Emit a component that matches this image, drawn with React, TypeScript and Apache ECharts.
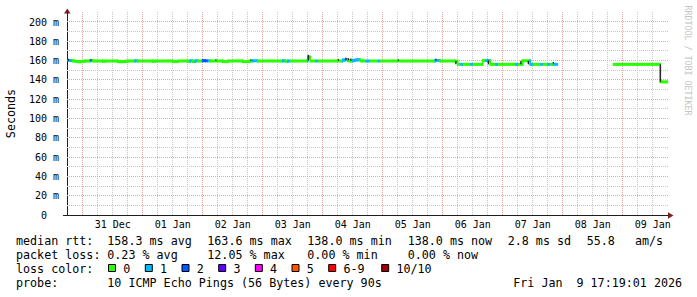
import React, { useEffect, useRef } from 'react';
import * as echarts from 'echarts';

// hours are counted from 31 Dec 00:00; one step = 1 hour
const FIRST_HOUR = -6;
const medianMs: (number | null)[] = [
  // 30 Dec 18:00 - 23:00
  160.2, 160.0, 159.6, 159.2, 158.9, 159.0,
  // 31 Dec
  159.3, 159.6, 159.6, 160.0, 159.6, 159.6, 159.6, 159.6,
  159.3, 159.6, 159.6, 159.6, 159.6, 159.6, 159.0, 158.9,
  159.0, 159.3, 159.6, 159.6, 159.6, 159.8, 159.6, 159.6,
  // 01 Jan
  159.6, 159.6, 159.6, 159.6, 159.3, 159.6, 159.6, 159.6,
  159.6, 159.6, 159.6, 159.6, 159.0, 159.0, 159.6, 159.6,
  159.6, 159.6, 159.3, 159.8, 159.0, 159.8, 159.6, 159.6,
  // 02 Jan
  160.0, 159.8, 159.8, 159.6, 159.6, 159.6, 159.6, 159.6,
  159.0, 159.0, 159.6, 159.6, 159.6, 159.6, 159.6, 159.6,
  159.0, 159.0, 159.3, 159.6, 159.8, 159.8, 159.6, 159.6,
  // 03 Jan
  159.6, 159.6, 159.6, 159.6, 159.6, 159.6, 159.6, 159.6,
  159.8, 159.3, 159.6, 159.6, 159.6, 159.6, 159.6, 159.6,
  159.6, 159.6, 163.6, 159.6, 159.6, 159.6, 159.6, 159.6,
  // 04 Jan
  159.6, 159.6, 159.6, 159.6, 159.6, 159.6, 159.6, 159.6,
  160.6, 161.0, 159.8, 159.6, 160.2, 160.6, 161.0, 159.8,
  159.6, 159.6, 159.6, 159.6, 159.6, 159.6, 159.6, 159.6,
  // 05 Jan
  159.6, 159.6, 159.6, 159.6, 159.6, 159.6, 159.6, 159.6,
  159.6, 159.6, 159.6, 159.6, 159.6, 159.6, 159.6, 159.6,
  159.6, 159.6, 159.6, 159.6, 159.6, 160.2, 160.2, 159.6,
  // 06 Jan
  159.6, 159.6, 159.6, 159.6, 159.6, 159.4, 156.1, 156.1,
  156.1, 156.1, 156.1, 156.1, 156.1, 156.1, 156.1, 156.1,
  160.0, 160.0, 160.0, 156.1, 156.1, 156.1, 156.1, 156.1,
  // 07 Jan
  156.1, 156.1, 156.1, 156.1, 156.1, 156.1, 156.1, 156.1,
  159.8, 159.8, 159.8, 156.1, 156.1, 156.1, 156.1, 156.1,
  156.1, 156.1, 156.1, 156.1, 156.1, 156.1, null, null,
  // 08 Jan
  null, null, null, null, null, null, null, null,
  null, null, null, null, null, null, null, null,
  null, null, null, null, 156.1, 156.1, 156.1, 156.1,
  // 09 Jan
  156.1, 156.1, 156.1, 156.1, 156.1, 156.1, 156.1, 156.1,
  156.1, 156.1, 156.1, 156.1, 156.1, 156.1, 156.1, 138.0,
  138.0, 138.0,
];
const lossHours = [-6, -5, 3, 21, 43, 45, 48, 49, 50, 68, 69, 80, 82, 90, 93, 104, 105, 108, 109, 110, 113, 114, 118, 141, 142, 151, 155, 161, 162, 165, 173, 179, 183, 186, 188, 189];
const lossCounts = [1, 1, 1, 1, 1, 1, 2, 2, 1, 1, 1, 1, 1, 1, 1, 1, 1, 1, 1, 1, 1, 1, 1, 1, 1, 1, 1, 1, 1, 1, 1, 1, 1, 1, 1, 1];
const smokeHours = [-6, 3, 53, 67, 90, 102, 105, 106, 107, 126, 141, 149, 162, 175, 178, 188, 230.8];
const smokeLowMs = [159.8, 159.8, 159.8, 159.8, 160.0, 159.8, 160.4, 160.4, 159.8, 159.8, 160.0, 156.1, 156.1, 156.1, 156.1, 157.0, 138.0];
const smokeHighMs = [161.8, 161.5, 161.2, 161.2, 166.0, 161.5, 163.0, 162.5, 162.2, 161.2, 162.0, 159.6, 160.0, 159.8, 159.8, 158.6, 156.1];

const dayLabels = ['31 Dec', '01 Jan', '02 Jan', '03 Jan', '04 Jan', '05 Jan', '06 Jan', '07 Jan', '08 Jan', '09 Jan'];
const dayLabelHours = [12, 36, 60, 84, 108, 132, 156, 180, 204, 228];
const majorGridHours = [0, 24, 48, 72, 96, 120, 144, 168, 192, 216];
const minorGridHours = [6, 12, 18, 30, 36, 42, 54, 60, 66, 78, 84, 90, 102, 108, 114, 126, 132, 138, 150, 156, 162, 174, 180, 186, 198, 204, 210, 222, 228];
const majorGridMs = [20, 40, 60, 80, 100, 120, 140, 160, 180, 200];
const minorGridMs = [10, 30, 50, 70, 90, 110, 130, 150, 170, 190];
const yTickMs = [0, 20, 40, 60, 80, 100, 120, 140, 160, 180, 200];

const lossLegendLabels = ['0', '1', '2', '3', '4', '5', '6-9', '10/10'];
const lossLegendColors = ['#26ff00', '#00b8ff', '#0059ff', '#5e00ff', '#ff00ff', '#ff5500', '#ff0000', '#a10000'];
const medianStats = ['158.3 ms avg', '163.6 ms max', '138.0 ms min', '138.0 ms now', '2.8 ms sd', '55.8', 'am/s'];
const lossStats = ['0.23 % avg', '12.05 % max', '0.00 % min', '0.00 % now'];
const probeText = '10 ICMP Echo Pings (56 Bytes) every 90s';
const dateParts = ['Fri Jan', '9 17:19:01 2026'];

const X_MIN = -6.28;
const X_MAX = 234.12;
const Y_MAX = 210;
const MONO = 'DejaVu Sans Mono';
const GRID_GRAY = '#c6c6c6';
const GRID_RED = '#eea4a4';

function lossColorIndex(n: number) {
  if (n <= 4) return n;
  if (n === 5) return 5;
  if (n < 10) return 6;
  return 7;
}

export default function App() {
  const ref = useRef<HTMLDivElement>(null);
  useEffect(() => {
    if (!ref.current) return;
    const chart = echarts.init(ref.current, undefined, { renderer: 'svg' });

    const lossByHour: Record<number, number> = {};
    lossHours.forEach((h, i) => { lossByHour[h] = lossCounts[i]; });

    const medianData: number[][] = [];
    medianMs.forEach((v, i) => {
      if (v == null) return;
      const h = FIRST_HOUR + i;
      const prev = i > 0 && medianMs[i - 1] != null ? (medianMs[i - 1] as number) : v;
      medianData.push([h, v, lossByHour[h] || 0, prev]);
    });
    const smokeData = smokeHours.map((h, i) => [h, smokeLowMs[i], smokeHighMs[i]]);
    const xGridData = [
      ...majorGridHours.map((h) => [h, 1]),
      ...minorGridHours.map((h) => [h, 0]),
    ];
    const yGridData = [
      ...majorGridMs.map((v) => [v, 1]),
      ...minorGridMs.map((v) => [v, 0]),
    ];

    const textStyle = (text: string, x: number, y: number) => ({
      type: 'text', x, y, silent: true,
      style: { text, fontFamily: MONO, fontSize: 11.7, fill: '#000', verticalAlign: 'middle', align: 'left' },
    });
    const L1 = 241.1, L2 = 254.8, L3 = 268.8, L4 = 282.5;
    const medX = [107.3, 207.3, 307.3, 407.7, 507.7, 586.7, 635];
    const lossX = [107.3, 207.3, 307.3, 407.7];
    const boxX = [108.5, 145.3, 182, 218.7, 255.3, 292, 328.7, 381.7];
    const boxTextX = [123.3, 160, 196.7, 233.4, 270, 306.7, 343.4, 396.4];

    const graphics: any[] = [
      textStyle('median rtt:', 16, L1),
      ...medianStats.map((t, i) => textStyle(t, medX[i], L1)),
      textStyle('packet loss:', 16, L2),
      ...lossStats.map((t, i) => textStyle(t, lossX[i], L2)),
      textStyle('loss color:', 16, L3),
      ...lossLegendLabels.map((t, i) => textStyle(t, boxTextX[i], L3)),
      ...lossLegendColors.map((c, i) => ({
        type: 'rect', silent: true,
        shape: { x: boxX[i], y: 264.5, width: 7, height: 7 },
        style: { fill: c, stroke: '#000', lineWidth: 1 },
      })),
      textStyle('probe:', 16, L4),
      textStyle(probeText, 107.3, L4),
      textStyle(dateParts[0], 513.3, L4),
      textStyle(dateParts[1], 576.5, L4),
      {
        type: 'text', x: 11, y: 113.5, rotation: Math.PI / 2, silent: true,
        style: { text: 'Seconds', fontFamily: MONO, fontSize: 11.7, fill: '#000', align: 'center', verticalAlign: 'middle' },
      },
      {
        type: 'text', x: 688, y: 60.5, rotation: -Math.PI / 2, silent: true,
        style: { text: 'RRDTOOL / TOBI OETIKER', fontFamily: MONO, fontSize: 8.3, fill: '#c4c4c4', align: 'center', verticalAlign: 'middle' },
      },
      // axis extension and arrows
      { type: 'line', silent: true, shape: { x1: 63, y1: 215.5, x2: 67, y2: 215.5 }, style: { stroke: '#1f1f1f', lineWidth: 1 } },
      { type: 'polygon', silent: true, shape: { points: [[64, 13.5], [70.5, 13.5], [67.3, 8.5]] }, style: { fill: '#7f1f1f' } },
      { type: 'polygon', silent: true, shape: { points: [[668, 212.3], [668, 218.7], [673.5, 215.5]] }, style: { fill: '#7f1f1f' } },
    ];

    const option: any = {
      animation: false,
      backgroundColor: '#ffffff',
      grid: { left: 67, right: 29, top: 12.35, bottom: 82, containLabel: false },
      xAxis: {
        type: 'value', min: X_MIN, max: X_MAX,
        axisLine: { show: true, onZero: false, lineStyle: { color: '#1f1f1f', width: 1 } },
        axisTick: { show: false },
        splitLine: { show: false },
        axisLabel: {
          customValues: dayLabelHours,
          formatter: (v: number) => dayLabels[dayLabelHours.indexOf(Math.round(v))] ?? '',
          fontFamily: MONO, fontSize: 10, color: '#000', margin: 4,
        },
      },
      yAxis: {
        type: 'value', min: 0, max: Y_MAX,
        axisLine: { show: true, onZero: false, lineStyle: { color: '#1f1f1f', width: 1 } },
        axisTick: { show: false },
        splitLine: { show: false },
        axisLabel: {
          customValues: yTickMs,
          formatter: (v: number) => (v === 0 ? '{z|0}' : `${v} m`),
          rich: { z: { fontFamily: MONO, fontSize: 10, color: '#000', padding: [0, 12, 0, 0] } },
          fontFamily: MONO, fontSize: 10, color: '#000', margin: 8,
        },
      },
      series: [
        {
          type: 'custom', name: 'xgrid', z: 1, silent: true,
          data: xGridData, encode: { x: 0 },
          renderItem: (params: any, api: any) => {
            const h = api.value(0);
            const major = api.value(1) === 1;
            const top = api.coord([h, Y_MAX]);
            const bot = api.coord([h, 0]);
            const x = Math.floor(top[0]) + 0.5;
            return {
              type: 'line',
              shape: { x1: x, y1: Math.round(bot[1]), x2: x, y2: Math.round(top[1]) },
              style: { stroke: major ? GRID_RED : GRID_GRAY, lineWidth: 1, lineDash: [1, 1] },
            };
          },
        },
        {
          type: 'custom', name: 'ygrid', z: 1, silent: true,
          data: yGridData, encode: { y: 0 },
          renderItem: (params: any, api: any) => {
            const v = api.value(0);
            const major = api.value(1) === 1;
            const a = api.coord([X_MIN, v]);
            const b = api.coord([X_MAX, v]);
            const y = Math.floor(a[1]) + 0.5;
            return {
              type: 'line',
              shape: { x1: Math.round(a[0]), y1: y, x2: Math.round(b[0]), y2: y },
              style: { stroke: major ? GRID_RED : GRID_GRAY, lineWidth: 1, lineDash: [1, 1] },
            };
          },
        },
        {
          type: 'custom', name: 'median', z: 3, silent: true,
          data: medianData, encode: { x: 0, y: 1 },
          renderItem: (params: any, api: any) => {
            const h = api.value(0);
            const v = api.value(1);
            const loss = api.value(2);
            const prev = api.value(3);
            const p0 = api.coord([h, v]);
            const p1 = api.coord([h + 1, v]);
            const color = lossLegendColors[lossColorIndex(loss)];
            const children: any[] = [
              { type: 'rect', shape: { x: p0[0], y: p0[1] - 1.5, width: p1[0] - p0[0] + 0.4, height: 3 }, style: { fill: color } },
            ];
            if (prev !== v) {
              const pp = api.coord([h, prev]);
              children.push({
                type: 'rect',
                shape: { x: p0[0] - 0.8, y: Math.min(pp[1], p0[1]) - 1.5, width: 1.6, height: Math.abs(pp[1] - p0[1]) + 3 },
                style: { fill: color },
              });
            }
            return { type: 'group', children };
          },
        },
        {
          type: 'custom', name: 'smoke', z: 4, silent: true,
          data: smokeData, encode: { x: 0, y: [1, 2] },
          renderItem: (params: any, api: any) => {
            const h = api.value(0);
            const lo = api.coord([h, api.value(1)]);
            const hi = api.coord([h, api.value(2)]);
            return {
              type: 'rect',
              shape: { x: lo[0], y: hi[1], width: 1.4, height: lo[1] - hi[1] },
              style: { fill: '#2a2a2a' },
            };
          },
        },
      ],
      graphic: graphics,
    };
    chart.setOption(option);
    return () => chart.dispose();
  }, []);
  return (
    <div
      ref={ref}
      style={{ position: 'absolute', left: 0, top: 0, width: 697, height: 297, background: '#fff' }}
    />
  );
}
